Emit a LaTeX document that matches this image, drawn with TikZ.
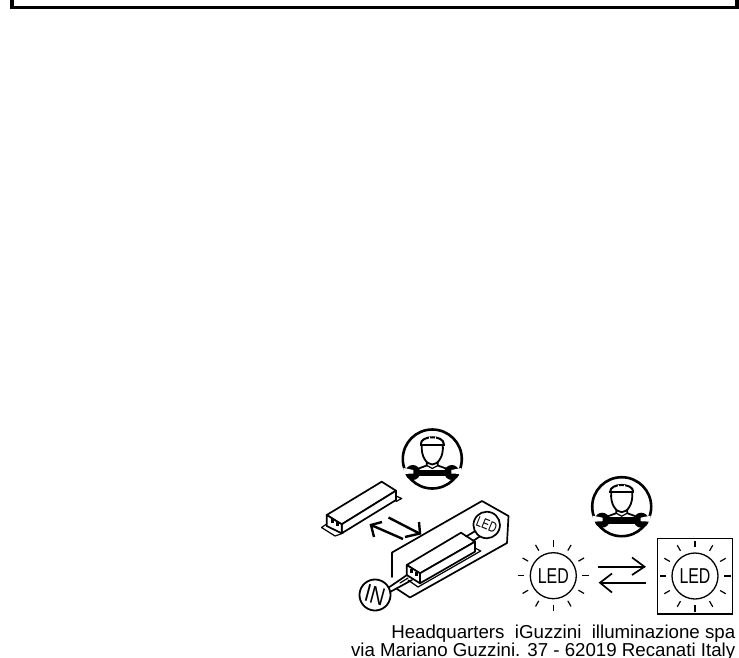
\documentclass[tikz,border=0pt]{standalone}
\usepackage{fontspec}
\setmainfont{Liberation Sans}
\usetikzlibrary{calc}
\tikzset{
  x=1pt,y=-1pt,
  thinl/.style={line width=1.2pt,line join=round,line cap=round},
  medl/.style={line width=1.7pt,line join=round,line cap=round},
  thickl/.style={line width=2.4pt,line join=miter},
  rayl/.style={line width=1.2pt},
  ledring/.style={draw,circle,line width=1.3pt,minimum size=46pt,inner sep=0pt,font=\fontsize{21.5}{21.5}\selectfont},
  foot/.style={font=\fontsize{18.7}{19}\selectfont,inner sep=0pt,anchor=base east},
  techicon/.pic={
    \draw[line width=2.6pt] (0,0) circle (29.5);
    % helmet
    \draw[line width=2pt] (-11.5,-15) .. controls (-11.5,-24) and (11.5,-24) .. (11.5,-15);
    \draw[line width=2pt] (-12.5,-14.5) -- (12.5,-14.5);
    \draw[white,line width=.9pt] (-3,-22) -- (-3,-18) (3,-22) -- (3,-18);
    % face
    \draw[line width=1.8pt] (-10.5,-14) .. controls (-11.5,-3) and (-6,5.5) .. (0,5.5) .. controls (6,5.5) and (11.5,-3) .. (10.5,-14);
    % shoulders
    \draw[line width=1.8pt] (-5.5,3) -- (-5.5,6.5) -- (-15,10) (5.5,3) -- (5.5,6.5) -- (15,10);
    \draw[line width=1.2pt] (-5.5,6.5) -- (0,9.5) -- (5.5,6.5);
    % wrench
    \fill (-19,10.5) -- (19,10.5) -- (19,17) -- (-19,17) -- cycle;
    \fill (-19.5,13.5) circle (7.5);
    \fill (19.5,13.5) circle (7.5);
    \fill[white] (-29,9) -- (-19,11) -- (-19,14.5) -- (-29,15) -- cycle;
    \fill[white] (29,9) -- (19,11) -- (19,14.5) -- (29,15) -- cycle;
  },
}
\newcommand{\ledrays}[2]{%
  \foreach \a in {0,30,...,330}{
    \draw[rayl] ($(#1)+(\a:#2)$) -- ($(#1)+(\a:#2+6.5)$);
  }%
}
\newcommand{\narrowled}{\scalebox{.74}[1]{LED}}
\begin{document}
\begin{tikzpicture}
\useasboundingbox (0,0) rectangle (739,658);
% top frame
\draw[line width=3.8pt] (12.3,-20) -- (12.3,7.6) -- (737,7.6) -- (737,-20);

% technician icons
\pic (techa) at (432.3,459) {techicon};
\pic (techb) at (621.7,506.7) {techicon};

% left spare driver
\draw[thinl,fill=white] (321.5,527.5) -- (326.7,524) -- (343,533) -- (338,535) -- (335,536) -- cycle;
\draw[thinl] (396,496) -- (401.7,498.5) -- (396,501.5);
\draw[medl,fill=white] (326.7,515) -- (381.7,481.7) -- (396,490.7) -- (341.7,524.3) -- cycle;
\draw[medl,fill=white] (341.7,524.3) -- (396,490.7) -- (396,500) -- (341.7,533.3) -- cycle;
\draw[medl,fill=white] (326.7,515) -- (341.7,524.3) -- (341.7,533.3) -- (326.7,526) -- cycle;
\fill (330.5,518.5) rectangle (333.5,522.5);
\fill (336,522) rectangle (339,526);

% swap arrows
\draw[thickl] (388.5,517.5) -- (419.5,533.5);
\draw[thickl] (419,522) -- (420,533.5) -- (405,537);
\draw[thickl] (403,539) -- (371,525);
\draw[thickl] (382,522) -- (371,525) -- (374,537);

% panel
\draw[medl] (392,577) -- (392,552.5) -- (482,501) -- (508.5,516) -- (507,543) -- (410,597.5) -- (397,589);
% tray
\draw[thinl] (475,548) -- (480.7,551) -- (418,587) -- (408,580);
% driver
\draw[medl,fill=white] (406.7,565) -- (461,532.7) -- (475,541.7) -- (420,573.3) -- cycle;
\draw[medl,fill=white] (420,573.3) -- (475,541.7) -- (475,551.7) -- (420,583.3) -- cycle;
\draw[medl,fill=white] (406.7,565) -- (420,573.3) -- (420,583.3) -- (406.7,575) -- cycle;
\fill (410,569) rectangle (413,572.5);
\fill (414.5,572) rectangle (417.5,575.5);
% wires
\draw[medl] (388,588) -- (407,575) (390,592) -- (412,580);
\draw[thinl] (400,583) -- (408,578);
\draw[medl] (466,536.5) -- (478,529.5) (473,541) -- (482,535);
% tags
\node[draw,circle,line width=1.7pt,fill=white,minimum size=26.5pt,inner sep=0pt,rotate=-22,font=\fontsize{14.5}{14.5}\selectfont] (ledcirc) at (486.7,525) {\narrowled};
\node[draw,circle,line width=1.8pt,fill=white,minimum size=31pt,inner sep=0pt,rotate=-15,font=\fontsize{25}{25}\selectfont] (incirc) at (375,595) {\scalebox{.8}[1]{IN}};

% left LED
\coordinate (ledl) at (553.3,575.7);
\node[ledring] (leda) at (ledl) {\narrowled};
\ledrays{ledl}{29}

% exchange arrows
\draw[thickl] (597.7,566.7) -- (644.5,566.7);
\draw[line width=1.7pt] (632,557.5) -- (644.5,566.7) -- (632,575);
\draw[thickl] (646,582.7) -- (600,582.7);
\draw[line width=1.7pt] (612,573.5) -- (600,582.7) -- (612,592.5);

% right LED in box
\node[draw,rectangle,line width=1.5pt,minimum width=75pt,minimum height=75.5pt,inner sep=0pt] (ledbox) at (695.2,576.2) {};
\coordinate (ledr) at (695,576);
\node[ledring] (ledb) at (ledr) {\narrowled};
\ledrays{ledr}{29}

% address
\begin{scope}
\clip (300,618) rectangle (739,658);
\node[foot] (addra) at (735.5,638) {Headquarters\ \ iGuzzini\ \ illuminazione spa};
\node[foot] (addrb) at (735.5,656) {via Mariano Guzzini. 37 - 62019 Recanati Italy};
\end{scope}
\end{tikzpicture}
\end{document}
